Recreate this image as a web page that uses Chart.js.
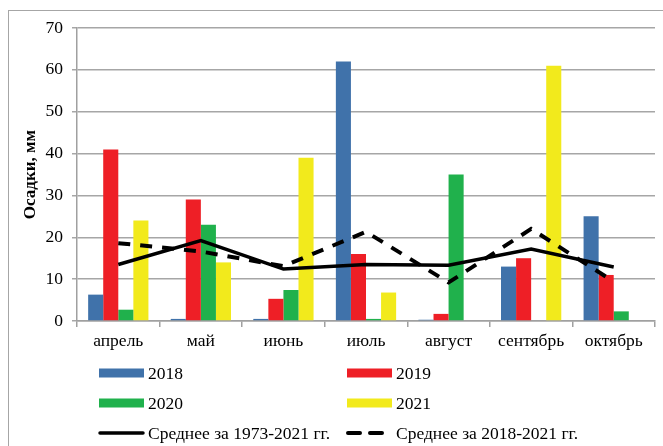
<!DOCTYPE html>
<html>
<head>
<meta charset="utf-8">
<script src="https://cdn.jsdelivr.net/npm/chart.js@4.4.1/dist/chart.umd.min.js"></script>
<style>
  html, body { margin: 0; padding: 0; background: #fff; overflow: hidden; }
  #wrap { position: relative; width: 663px; height: 446px; }
  #frame { position: absolute; left: 8px; top: 10px; width: 700px; height: 500px; border: 1px solid #a6a6a6; }
  canvas { position: absolute; left: 0; top: 0; }
</style>
</head>
<body>
<div id="wrap">
  <div id="frame"></div>
  <canvas id="myChart" width="663" height="446"></canvas>
</div>
<script>
var months = ['апрель', 'май', 'июнь', 'июль', 'август', 'сентябрь', 'октябрь'];
var y2018 = [6.3, 0.5, 0.5, 62, 0.3, 13, 25];
var y2019 = [41, 29, 5.3, 16, 1.7, 15, 11];
var y2020 = [2.7, 23, 7.4, 0.5, 35, null, 2.3];
var y2021 = [24, 14, 39, 6.8, null, 61, null];
var avgLong = [13.5, 19.2, 12.4, 13.5, 13.3, 17.2, 12.9];
var avgShort = [18.6, 16.6, 13.1, 21.3, 9.2, 22.0, 9.4];

var serif = "'Liberation Serif', 'Times New Roman', serif";

// legend drawn by hand: two columns, three rows
var legendBox = {
    id: 'legendBox',
    afterDraw: function(chart) {
        var ctx = chart.ctx;
        var ds = chart.data.datasets;
        var cols = [99, 347];
        var rows = [373, 403, 433];
        ctx.save();
        ctx.font = '17.5px ' + serif;
        ctx.textBaseline = 'middle';
        ctx.fillStyle = '#000';
        for (var i = 0; i < ds.length; i++) {
            var x = cols[i % 2], y = rows[Math.floor(i / 2)];
            if (ds[i].type === 'line') {
                ctx.strokeStyle = ds[i].borderColor;
                ctx.lineWidth = ds[i].borderWidth;
                ctx.setLineDash(ds[i].borderDash || []);
                ctx.lineCap = 'round';
                ctx.beginPath();
                ctx.moveTo(x + 1, y);
                ctx.lineTo(x + 44, y);
                ctx.stroke();
                ctx.setLineDash([]);
            } else {
                ctx.fillStyle = ds[i].backgroundColor;
                ctx.fillRect(x, y - 4.5, 45, 9);
            }
            ctx.fillStyle = '#000';
            ctx.fillText(ds[i].label, x + 49, y + 1);
        }
        ctx.restore();
    }
};

var ctx = document.getElementById('myChart').getContext('2d');
var chart = new Chart(ctx, {
    type: 'bar',
    data: {
        labels: months,
        datasets: [
            { label: '2018', data: y2018, backgroundColor: '#4072aa', order: 2 },
            { label: '2019', data: y2019, backgroundColor: '#ee1f26', order: 2 },
            { label: '2020', data: y2020, backgroundColor: '#20b14c', order: 2 },
            { label: '2021', data: y2021, backgroundColor: '#f2ea1c', order: 2 },
            { type: 'line', label: 'Среднее за 1973-2021 гг.', data: avgLong, borderColor: '#000',
              borderWidth: 3.5, pointRadius: 0, tension: 0, fill: false, order: 0 },
            { type: 'line', label: 'Среднее за 2018-2021 гг.', data: avgShort, borderColor: '#000',
              borderWidth: 4, borderDash: [12, 10], pointRadius: 0, tension: 0, fill: false, order: 1 }
        ]
    },
    options: {
        responsive: false,
        animation: false,
        datasets: { bar: { categoryPercentage: 0.73, barPercentage: 1 } },
        layout: { padding: { left: 0, right: 8, top: 28, bottom: 95 } },
        plugins: { legend: { display: false }, tooltip: { enabled: false } },
        scales: {
            x: {
                grid: { offset: true, drawOnChartArea: false, drawTicks: true, tickLength: 6, color: '#a0a0a0', lineWidth: 1.5 },
                border: { color: '#a0a0a0', width: 1.5 },
                ticks: { color: '#000', font: { family: serif, size: 17.5 }, padding: 4 },
                afterFit: function(scale) { scale.height = 30; }
            },
            y: {
                min: 0, max: 70,
                grid: { color: '#a6a6a6', lineWidth: 1.5, tickLength: 5 },
                border: { color: '#a0a0a0', width: 1.5 },
                ticks: { stepSize: 10, color: '#000', font: { family: serif, size: 17.5 }, padding: 9 },
                title: { display: true, text: 'Осадки, мм', color: '#000',
                         font: { family: serif, size: 17, weight: 'bold' }, padding: { top: 20, bottom: 0 } },
                afterFit: function(scale) { scale.width = 77; }
            }
        }
    },
    plugins: [legendBox]
});
</script>
</body>
</html>
